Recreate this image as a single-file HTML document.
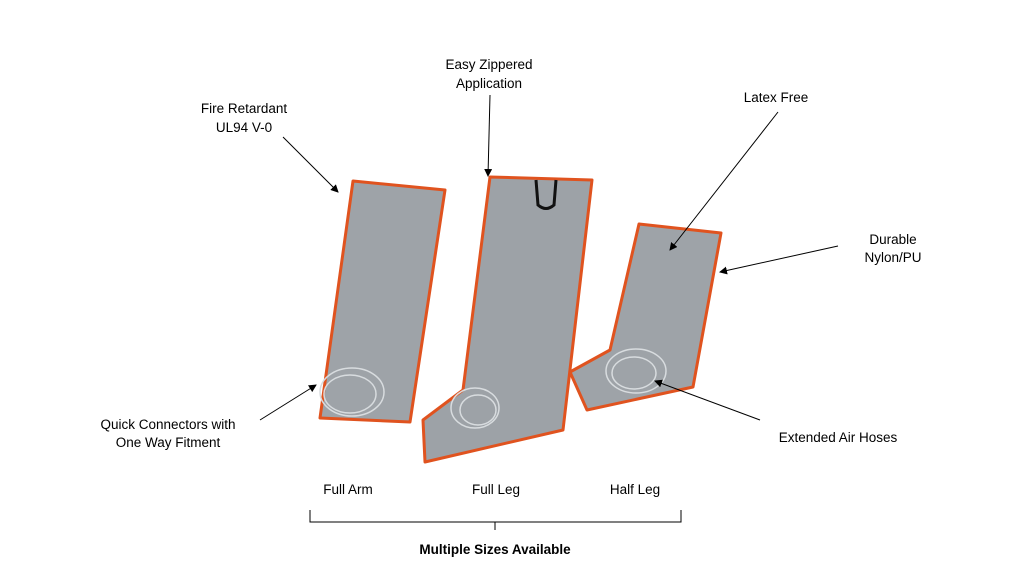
<!DOCTYPE html>
<html><head><style>
body{margin:0;background:#fff}
svg{display:block}
text{font-family:"Liberation Sans",Arial,sans-serif;font-size:13.5px;fill:#000;text-anchor:middle}
</style></head><body>
<svg width="1024" height="576" viewBox="0 0 1024 576">
<defs><marker id="a" markerWidth="8" markerHeight="8" refX="7" refY="4" orient="auto" markerUnits="userSpaceOnUse"><path d="M0,0 L8,4 L0,8z" fill="#000"/></marker></defs>
<g stroke="#e0531f" stroke-width="3" stroke-linejoin="round">
<polygon points="353,181 445,190 410,422 320,418" fill="#9ea3a8"/>
<polygon points="490,177 592,180 563,430 425,462 423,420 463,390" fill="#9da2a7"/>
<polygon points="639,224 721,233 693,387 587,410 570,372 610,350" fill="#9ea3a8"/>
</g>
<path d="M536,180 L538,205 Q546,212 554,205 L556,180" fill="none" stroke="#111" stroke-width="3"/>
<g fill="none" stroke="#d8dcdf" stroke-width="1.5">
<ellipse cx="352" cy="392" rx="32" ry="24"/><ellipse cx="350" cy="394" rx="26" ry="19"/>
<ellipse cx="475" cy="408" rx="24" ry="20"/><ellipse cx="478" cy="410" rx="18" ry="15"/>
<ellipse cx="636" cy="371" rx="30" ry="22"/><ellipse cx="634" cy="373" rx="22" ry="16"/>
</g>
<g stroke="#000" stroke-width="1" marker-end="url(#a)">
<line x1="283" y1="137" x2="338" y2="192"/>
<line x1="490" y1="95" x2="488" y2="176"/>
<line x1="778" y1="112" x2="670" y2="250"/>
<line x1="838" y1="246" x2="720" y2="272"/>
<line x1="260" y1="420" x2="316" y2="385"/>
<line x1="760" y1="420" x2="655" y2="381"/>
</g>
<path d="M310,510 V522 H681 V510 M495,522 V530" fill="none" stroke="#000" stroke-width="1"/>
<text x="244" y="113">Fire Retardant</text><text x="244" y="132">UL94 V-0</text>
<text x="489" y="69">Easy Zippered</text><text x="489" y="88">Application</text>
<text x="776" y="102">Latex Free</text>
<text x="893" y="244">Durable</text><text x="893" y="262">Nylon/PU</text>
<text x="168" y="429">Quick Connectors with</text><text x="168" y="447">One Way Fitment</text>
<text x="838" y="442">Extended Air Hoses</text>
<text x="348" y="494">Full Arm</text><text x="496" y="494">Full Leg</text><text x="635" y="494">Half Leg</text>
<text x="495" y="554" style="font-weight:bold">Multiple Sizes Available</text>
</svg>
</body></html>
